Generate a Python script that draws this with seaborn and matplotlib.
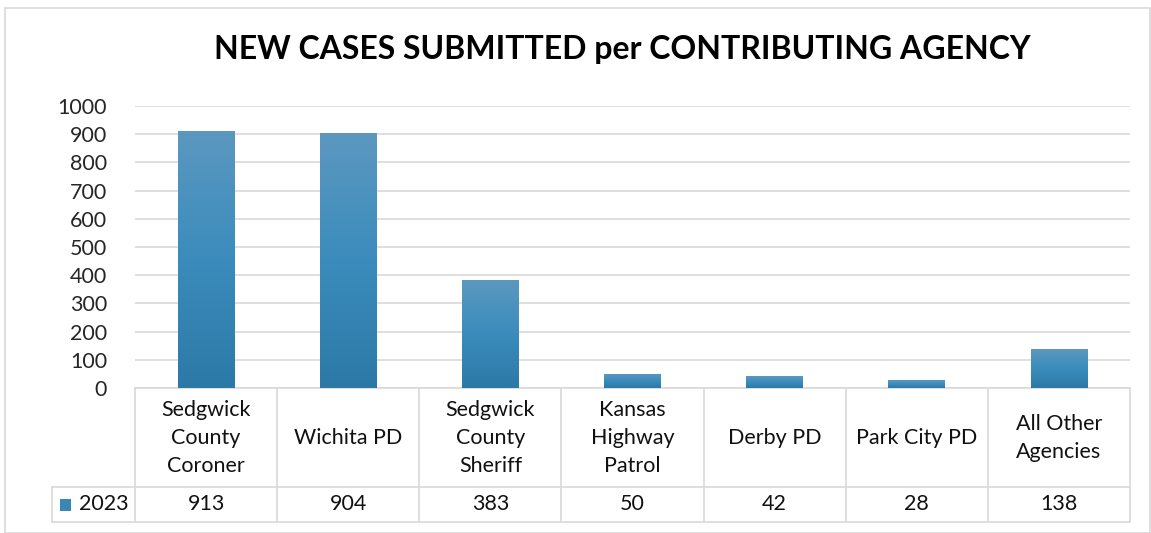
import numpy as np
import pandas as pd
import matplotlib
matplotlib.use('Agg')
import matplotlib.pyplot as plt
import seaborn as sns
from matplotlib.colors import LinearSegmentedColormap
from matplotlib.patches import Rectangle
from matplotlib.lines import Line2D

# Data
agencies = ['Sedgwick\nCounty\nCoroner', 'Wichita PD', 'Sedgwick\nCounty\nSheriff',
            'Kansas\nHighway\nPatrol', 'Derby PD', 'Park City PD', 'All Other\nAgencies']
cases_2023 = [913, 904, 383, 50, 42, 28, 138]
series_name = '2023'
y_ticks = [0, 100, 200, 300, 400, 500, 600, 700, 800, 900, 1000]

df = pd.DataFrame({'agency': agencies, 'cases': cases_2023})

sns.set_theme(style='white')
plt.rcParams['font.family'] = ['Lato', 'DejaVu Sans']

W, H = 1151, 533
fig = plt.figure(figsize=(W / 100, H / 100), dpi=100)
fig.patch.set_facecolor('white')

# axes placement (pixels)
left, right, top, bottom = 135, 1130, 106, 388
ax = fig.add_axes([left / W, 1 - bottom / H, (right - left) / W, (bottom - top) / H])

sns.barplot(data=df, x='agency', y='cases', color='#3a86b4', width=0.4, ax=ax, zorder=3)

# gradient fill for bars
grad = LinearSegmentedColormap.from_list('g', ['#2c79a6', '#3b8cbc', '#5c98c0'])
gimg = np.linspace(0, 1, 256).reshape(-1, 1)
for p in ax.patches:
    x0, y0 = p.get_x(), p.get_y()
    w, h = p.get_width(), p.get_height()
    p.set_facecolor('none')
    p.set_edgecolor('none')
    im = ax.imshow(gimg, cmap=grad, aspect='auto', origin='lower',
                   extent=[x0, x0 + w, y0, y0 + h], zorder=3)
    im.set_clip_path(p)
ax.set_xlim(-0.5, len(agencies) - 0.5)
ax.set_ylim(0, 1000)

ax.set_yticks(y_ticks)
ax.set_yticklabels([str(v) for v in y_ticks], fontsize=15.5)
ax.tick_params(axis='y', length=0, pad=20)
ax.set_xticks([])
ax.set_xlabel('')
ax.set_ylabel('')
ax.yaxis.grid(True, color='#d9d9d9', linewidth=1.2, zorder=0)
for s in ['top', 'right', 'left']:
    ax.spines[s].set_visible(False)
ax.spines['bottom'].set_color('#d9d9d9')
ax.spines['bottom'].set_linewidth(1.2)

# data table below the plot
ph = bottom - top
pw = right - left
row1 = -(487 - bottom) / ph
row2 = -(522 - bottom) / ph
leg_x = (52 - left) / pw
tr = ax.get_xaxis_transform()
lc = '#d9d9d9'
for i in range(len(agencies) + 1):
    ax.add_line(Line2D([i - 0.5, i - 0.5], [0, row2], transform=tr, color=lc,
                       lw=1.2, clip_on=False))
for yy in [row1, row2]:
    ax.add_line(Line2D([leg_x, 1], [yy, yy], transform=ax.transAxes, color=lc,
                       lw=1.2, clip_on=False))
ax.add_line(Line2D([leg_x, leg_x], [row1, row2], transform=ax.transAxes, color=lc,
                   lw=1.2, clip_on=False))

for i, (name, val) in enumerate(zip(agencies, cases_2023)):
    ax.text(i, row1 / 2, name, transform=tr, ha='center', va='center',
            fontsize=15.5, linespacing=1.5, color='#111111')
    ax.text(i, (row1 + row2) / 2, str(val), transform=tr, ha='center',
            va='center', fontsize=15.5, color='#111111')

# legend key in the table
ax.add_patch(Rectangle(((60 - left) / pw, (row1 + row2) / 2 - 6 / ph), 11 / pw, 12 / ph,
                       transform=ax.transAxes, facecolor='#3a86b4', edgecolor='none',
                       clip_on=False))
ax.text((79 - left) / pw, (row1 + row2) / 2, series_name, transform=ax.transAxes,
        ha='left', va='center', fontsize=15.5, color='#111111')

fig.text(622 / W, 1 - 50 / H, 'NEW CASES SUBMITTED per CONTRIBUTING AGENCY',
         ha='center', va='center', fontsize=23, fontweight='bold', color='black')

# outer chart border
fig.add_artist(Rectangle((5 / W, 0), (W - 6) / W, 1 - 8 / H, transform=fig.transFigure,
                         facecolor='none', edgecolor='#d9d9d9', lw=1.2))

fig.savefig('out.png', dpi=100)
